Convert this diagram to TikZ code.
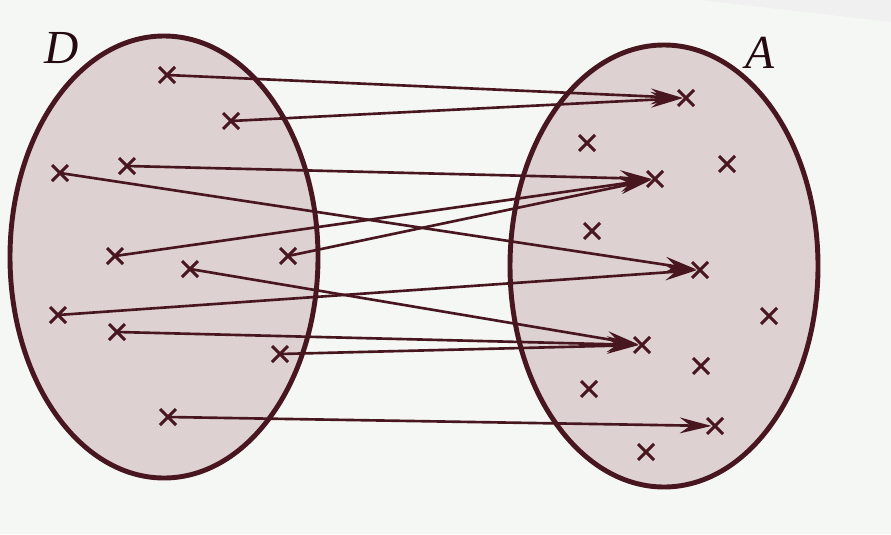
\documentclass[tikz,border=0pt]{standalone}
\usepackage{fontspec}
\setmainfont{Liberation Serif}
\usetikzlibrary{arrows.meta}
\definecolor{maroon}{RGB}{72,22,30}
\definecolor{setfill}{RGB}{222,209,209}
\definecolor{paper}{RGB}{245,247,245}
\tikzset{
  pt/.style={line width=1.7pt, maroon},
  map/.style={line width=1.5pt, maroon, shorten >=2pt, -{Stealth[length=18pt,width=9pt,inset=6pt]}},
  setline/.style={line width=2.8pt, draw=maroon, fill=setfill},
  setname/.style={text=maroon!50!black, font=\fontsize{27}{30}\selectfont\itshape}
}
\begin{document}
\begin{tikzpicture}[x=0.02cm, y=-0.02cm]
  \fill[paper] (0,0) rectangle (891,534);
  \fill[gray!12] (700,0) -- (891,0) -- (891,22) -- cycle;
  \useasboundingbox (0,0) rectangle (891,534);
  % the two sets
  \draw[setline] (164,257) ellipse (154 and 221);
  \draw[setline] (664,266) ellipse (154 and 221);
  \node[setname] (D) at (62,48) {D};
  \node[setname] (A) at (760,53) {A};
  % points of D
  \path (167,75) coordinate (d1) (231,121) coordinate (d2) (127,166) coordinate (d3)
        (60,173) coordinate (d4) (115,256) coordinate (d5) (288,256) coordinate (d6)
        (190,269) coordinate (d7) (58,315) coordinate (d8) (117,332) coordinate (d9)
        (280,354) coordinate (d10) (168,417) coordinate (d11);
  % points of A
  \path (686,98) coordinate (a1) (587,143) coordinate (a2) (655,179) coordinate (a3)
        (727,164) coordinate (a4) (592,231) coordinate (a5) (700,270) coordinate (a6)
        (769,316) coordinate (a7) (642,345) coordinate (a8) (701,366) coordinate (a9)
        (589,389) coordinate (a10) (715,426) coordinate (a11) (646,452) coordinate (a12);
  \foreach \p in {d1,d2,d3,d4,d5,d6,d7,d8,d9,d10,d11,a1,a2,a3,a4,a5,a6,a7,a8,a9,a10,a11,a12}
    \draw[pt] (\p) +(-8,-8) -- +(8,8) +(-8,8) -- +(8,-8);
  % the map
  \foreach \s/\t in {d1/a1,d2/a1,d3/a3,d4/a6,d5/a3,d6/a3,d7/a8,d8/a6,d9/a8,d10/a8,d11/a11}
    \draw[map] (\s) -- (\t);
\end{tikzpicture}
\end{document}
